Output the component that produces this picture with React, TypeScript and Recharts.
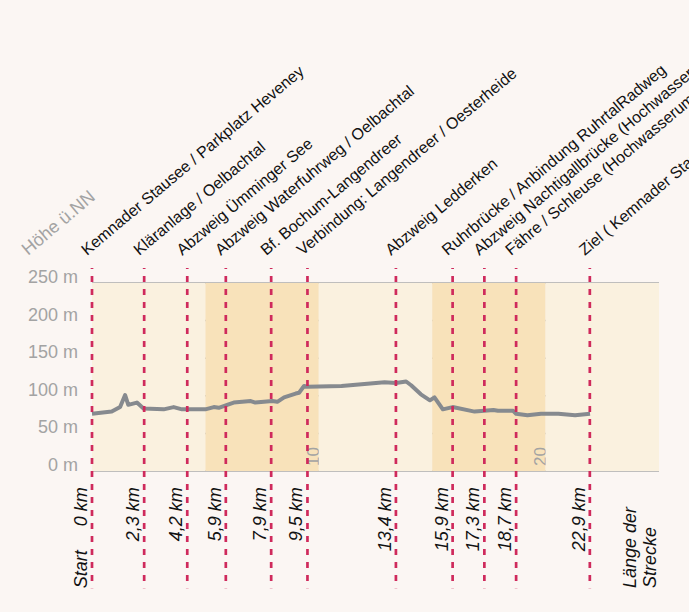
import {
  ComposedChart,
  Line,
  XAxis,
  YAxis,
  CartesianGrid,
  ReferenceArea,
  ReferenceLine,
} from "recharts";

/* ------------------------------------------------------------------ */
/* Höhenprofil – Strecke km / Höhe m                                    */
/* ------------------------------------------------------------------ */

const profileKm = [
  0, 0.87, 1.24, 1.46, 1.6, 1.98, 2.27, 3.16, 3.6, 3.97, 5.0, 5.37, 5.59, 5.96,
  6.25, 7.0, 7.2, 7.58, 7.95, 8.17, 8.47, 8.98, 9.13, 9.35, 9.5, 11.0, 12.9,
  13.4, 13.85, 14.07, 14.5, 14.9, 15.1, 15.47, 15.9, 16.87, 17.3, 17.7, 17.9,
  18.57, 18.7, 19.2, 19.8, 20.56, 21.3, 21.96,
];
const profileHeight = [
  76, 79, 85, 101, 88, 91, 83, 82, 85, 82, 82, 85, 84, 88, 91, 93, 91, 92, 93,
  92, 98, 103, 104, 113, 112, 113, 118, 117, 119, 114, 102, 94, 98, 82, 85, 79,
  80, 81, 80, 80, 76, 74, 76, 76, 74, 76,
];

const heightTicks = [0, 50, 100, 150, 200, 250];
const bandStarts = [0, 5, 10, 15, 20];
const bandWidth = 5;

const markerKm = [0, 2.3, 4.2, 5.9, 7.9, 9.5, 13.4, 15.9, 17.3, 18.7, 21.95];
const markerDistance = [
  "0 km", "2,3 km", "4,2 km", "5,9 km", "7,9 km", "9,5 km",
  "13,4 km", "15,9 km", "17,3 km", "18,7 km", "22,9 km",
];
const markerName = [
  "Kemnader Stausee / Parkplatz Heveney",
  "Kläranlage / Oelbachtal",
  "Abzweig Ümminger See",
  "Abzweig Waterfuhrweg / Oelbachtal",
  "Bf. Bochum-Langendreer",
  "Verbindung: Langendreer / Oesterheide",
  "Abzweig Ledderken",
  "Ruhrbrücke / Anbindung RuhrtalRadweg",
  "Abzweig Nachtigallbrücke (Hochwasserumleitung)",
  "Fähre / Schleuse (Hochwasserumleitung)",
  "Ziel ( Kemnader Stausee )",
];

// dashed markers run from above the plot down through the km labels
const markerTop = 270;
const markerBottom = -156;

const FONT = "'Liberation Sans', Arial, sans-serif";
const RED = "#cf2a5c";
const GREY_TEXT = "#a3a3a3";

const data = profileKm.map((km, i) => ({ km, h: profileHeight[i] }));

function HeightTick(props: any) {
  const { x, y, payload } = props;
  return (
    <text x={x} y={y} textAnchor="end" fill={GREY_TEXT} fontSize={18} fontFamily={FONT}>
      {`${payload.value} m`}
    </text>
  );
}

function markerLabel(i: number) {
  return (props: any) => {
    const { x, y, height } = props.viewBox;
    const bottom = y + height;
    return (
      <g fontFamily={FONT}>
        <text
          transform={`translate(${x - 5},${y - 12}) rotate(-40)`}
          fontSize={16}
          fill="#111"
        >
          {markerName[i]}
        </text>
        <text
          transform={`translate(${x - 5},${bottom - 101}) rotate(-90)`}
          textAnchor="end"
          fontSize={18}
          fontStyle="italic"
          fill="#111"
        >
          {markerDistance[i]}
        </text>
        {i === 0 && (
          <text
            transform={`translate(${x - 5},${bottom}) rotate(-90)`}
            fontSize={18}
            fontStyle="italic"
            fill="#111"
          >
            Start
          </text>
        )}
      </g>
    );
  };
}

function bandLabel(value: number) {
  return (props: any) => {
    const { x, y, width, height } = props.viewBox;
    return (
      <text
        transform={`translate(${x + width},${y + height - 5}) rotate(-90)`}
        fontSize={17}
        fontFamily={FONT}
        fill={GREY_TEXT}
      >
        {value}
      </text>
    );
  };
}

export default function App() {
  return (
    <div
      style={{
        position: "absolute",
        left: 0,
        top: 0,
        width: 689,
        height: 612,
        background: "#fbf6f3",
      }}
    >
      <ComposedChart
        width={689}
        height={612}
        data={data}
        margin={{ top: 283, right: 30, bottom: 141, left: 0 }}
      >
        {bandStarts.map((s, i) => (
          <ReferenceArea
            key={s}
            x1={s}
            x2={s + bandWidth}
            y1={0}
            y2={250}
            fill={i % 2 === 0 ? "#faf1df" : "#f8e2ba"}
            fillOpacity={1}
            stroke="none"
            ifOverflow="visible"
            label={i % 2 === 1 ? bandLabel(s + bandWidth) : undefined}
          />
        ))}
        <CartesianGrid vertical={false} stroke="#ababab" strokeWidth={1.5} />
        <XAxis dataKey="km" type="number" domain={[0, 25]} hide />
        <YAxis
          type="number"
          domain={[0, 250]}
          ticks={heightTicks}
          width={92}
          axisLine={false}
          tickLine={false}
          tickSize={0}
          tickMargin={14}
          tick={<HeightTick />}
        />
        <Line
          type="linear"
          dataKey="h"
          stroke="#868a8f"
          strokeWidth={4}
          strokeLinejoin="round"
          dot={false}
          activeDot={false}
          isAnimationActive={false}
        />
        {markerKm.map((km, i) => (
          <ReferenceLine
            key={km}
            segment={[
              { x: km, y: markerTop },
              { x: km, y: markerBottom },
            ]}
            stroke={RED}
            strokeWidth={2.7}
            strokeDasharray="6 7"
            strokeDashoffset={5}
            ifOverflow="visible"
            label={markerLabel(i)}
          />
        ))}
        <text
          transform="translate(28,256) rotate(-40)"
          fontSize={18}
          fontFamily={FONT}
          fill={GREY_TEXT}
        >
          Höhe ü.NN
        </text>
        <g fontFamily={FONT} fontSize={18} fontStyle="italic" fill="#111">
          <text transform="translate(636,588) rotate(-90)">Länge der</text>
          <text transform="translate(656,588) rotate(-90)">Strecke</text>
        </g>
      </ComposedChart>
    </div>
  );
}
